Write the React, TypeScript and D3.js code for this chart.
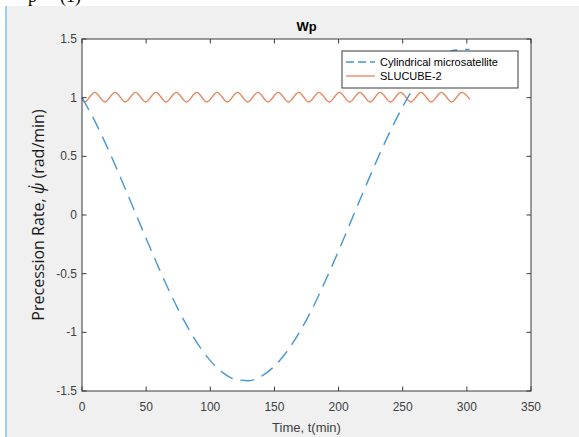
import React from 'react';
import * as d3 from 'd3';

// chart data
const xTicks = [0, 50, 100, 150, 200, 250, 300, 350];
const yTicks = [-1.5, -1, -0.5, 0, 0.5, 1, 1.5];
const yTickLabels = ['-1.5', '-1', '-0.5', '0', '0.5', '1', '1.5'];

const seriesNames = ['Cylindrical microsatellite', 'SLUCUBE-2'];

// Cylindrical microsatellite (dashed blue), read every 10 min
const cylTime = [0, 10, 20, 30, 40, 50, 60, 70, 80, 90, 100, 110, 120, 130, 140, 150, 160, 170, 180, 190, 200, 210, 220, 230, 240, 250, 260, 270, 280, 290, 300, 302];
const cylRate = [1.0, 0.8, 0.57, 0.32, 0.06, -0.2, -0.455, -0.694, -0.909, -1.094, -1.241, -1.345, -1.402, -1.412, -1.373, -1.288, -1.159, -0.99, -0.788, -0.554, -0.306, -0.044, 0.216, 0.47, 0.708, 0.923, 1.107, 1.249, 1.347, 1.405, 1.412, 1.41];

// SLUCUBE-2 (orange), peaks and troughs of the ripple
const sluTime = [0, 2.0, 9.9, 17.85, 25.8, 33.75, 41.7, 49.65, 57.6, 65.55, 73.5, 81.45, 89.4, 97.35, 105.3, 113.25, 121.2, 129.15, 137.1, 145.05, 153.0, 160.95, 168.9, 176.85, 184.8, 192.75, 200.7, 208.65, 216.6, 224.55, 232.5, 240.45, 248.4, 256.35, 264.3, 272.25, 280.2, 288.15, 296.1, 302.4];
const sluRate = [1.0, 0.963, 1.045, 0.963, 1.045, 0.963, 1.045, 0.963, 1.045, 0.963, 1.045, 0.963, 1.045, 0.963, 1.045, 0.963, 1.045, 0.963, 1.045, 0.963, 1.045, 0.963, 1.045, 0.963, 1.045, 0.963, 1.045, 0.963, 1.045, 0.963, 1.045, 0.963, 1.045, 0.963, 1.045, 0.963, 1.045, 0.963, 1.045, 0.985];

const W = 579;
const H = 437;
const BLUE = '#4796d3';
const ORANGE = '#e9835b';
const AXIS = '#3a3a3a';
const LABEL = '#404040';

const App = () => {
  const x = d3.scaleLinear().domain([0, 350]).range([82, 531]);
  const y = d3.scaleLinear().domain([-1.5, 1.5]).range([391, 39]);

  const cylPath = d3.line<number>()
    .x((d, i) => x(cylTime[i]))
    .y(d => y(d))
    .curve(d3.curveMonotoneX)(cylRate);

  const sluPath = d3.line<number>()
    .x((d, i) => x(sluTime[i]))
    .y(d => y(d))
    .curve(d3.curveMonotoneX)(sluRate);

  const [x0, x1] = x.range();
  const [yb, yt] = y.range();
  const tk = 4.5;
  const font = '"Liberation Sans", Arial, sans-serif';

  // legend position
  const lg = { x: 342, y: 51, w: 176, h: 37 };

  return (
    <svg width={W} height={H} style={{ position: 'absolute', left: 0, top: 0 }}>
      <rect x={0} y={0} width={W} height={H} fill="#ffffff" />
      <rect x={6} y={6} width={W - 6} height={H - 6} fill="#f0f0f0" />
      <line x1={6} x2={6} y1={6} y2={H} stroke="#7cc0ef" strokeWidth={1.5} />
      <text x={28} y={2} fontFamily="Liberation Serif, serif" fontSize={18} fill="#000">p</text>
      <text x={60} y={2} fontFamily="Liberation Serif, serif" fontSize={18} fill="#000">(1)</text>

      {/* plot area */}
      <rect x={x0} y={yt} width={x1 - x0} height={yb - yt} fill="#ffffff" />

      {/* series */}
      <path d={sluPath || ''} fill="none" stroke={ORANGE} strokeWidth={1.4} />
      <path d={cylPath || ''} fill="none" stroke={BLUE} strokeWidth={1.4} strokeDasharray="14 8" />

      {/* box and ticks */}
      <rect x={x0} y={yt} width={x1 - x0} height={yb - yt} fill="none" stroke={AXIS} strokeWidth={1} />
      {xTicks.map(t => (
        <g key={'x' + t}>
          <line x1={x(t)} x2={x(t)} y1={yb} y2={yb - tk} stroke={AXIS} />
          <line x1={x(t)} x2={x(t)} y1={yt} y2={yt + tk} stroke={AXIS} />
          <text x={x(t)} y={411} textAnchor="middle" fontFamily={font} fontSize={12} fill={LABEL}>{t}</text>
        </g>
      ))}
      {yTicks.map((t, i) => (
        <g key={'y' + t}>
          <line x1={x0} x2={x0 + tk} y1={y(t)} y2={y(t)} stroke={AXIS} />
          <line x1={x1} x2={x1 - tk} y1={y(t)} y2={y(t)} stroke={AXIS} />
          <text x={77} y={y(t) + 4} textAnchor="end" fontFamily={font} fontSize={12} fill={LABEL}>{yTickLabels[i]}</text>
        </g>
      ))}

      {/* title and axis labels */}
      <text x={(x0 + x1) / 2} y={31} textAnchor="middle" fontFamily={font} fontSize={13} fontWeight="bold" fill="#000">Wp</text>
      <text x={(x0 + x1) / 2} y={432} textAnchor="middle" fontFamily={font} fontSize={13} fill={LABEL}>Time, t(min)</text>
      <text transform={`translate(44, ${(yt + yb) / 2}) rotate(-90)`} textAnchor="middle" fontFamily='"Open Sans", sans-serif' fontSize={16} fill="#1a1a1a">
        Precession Rate, <tspan fontStyle="italic">{'\u03C8\u0307'}</tspan> (rad/min)
      </text>

      {/* legend */}
      <rect x={lg.x} y={lg.y} width={lg.w} height={lg.h} fill="#ffffff" stroke={AXIS} strokeWidth={1} />
      <line x1={lg.x + 4} x2={lg.x + 33} y1={lg.y + 11} y2={lg.y + 11} stroke={BLUE} strokeWidth={1.3} strokeDasharray="8 4" />
      <text x={lg.x + 38} y={lg.y + 15} fontFamily={font} fontSize={11} fill="#000">{seriesNames[0]}</text>
      <line x1={lg.x + 4} x2={lg.x + 33} y1={lg.y + 25} y2={lg.y + 25} stroke={ORANGE} strokeWidth={1.3} />
      <text x={lg.x + 38} y={lg.y + 29} fontFamily={font} fontSize={11} fill="#000">{seriesNames[1]}</text>
    </svg>
  );
};

export default App;
